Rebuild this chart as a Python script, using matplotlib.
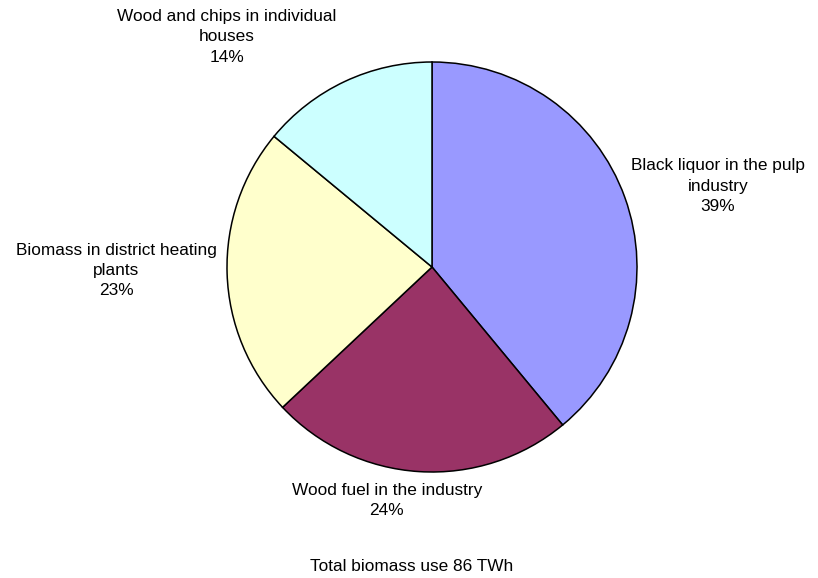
import matplotlib
matplotlib.use("Agg")
import matplotlib.pyplot as plt

# Slice data (clockwise from 12 o'clock)
categories = [
    "Black liquor in the pulp\nindustry",
    "Wood fuel in the industry",
    "Biomass in district heating\nplants",
    "Wood and chips in individual\nhouses",
]
shares = [39, 24, 23, 14]
colors = ["#9999FF", "#993366", "#FFFFCC", "#CCFFFF"]
total_note = "Total biomass use 86 TWh"

# Label centres in data units (pie radius = 1)
label_pos = [(1.395, 0.395), (-0.22, -1.141), (-1.541, -0.015), (-1.0, 1.122)]

plt.rcParams['font.family'] = ['Liberation Sans', 'DejaVu Sans']

fig = plt.figure(figsize=(8.18, 5.78), dpi=100)
ax = fig.add_axes([0, 0, 1, 1])

ax.pie(shares, colors=colors, startangle=90, counterclock=False,
       radius=1.0, center=(0, 0),
       wedgeprops=dict(edgecolor="black", linewidth=1.1))

for name, val, (x, y) in zip(categories, shares, label_pos):
    ax.text(x, y, f"{name}\n{val}%", ha="center", va="center",
            multialignment="center", fontsize=12.4, linespacing=1.42,
            color="black")

ax.text(-0.098, -1.463, total_note, ha="center", va="center", fontsize=12.4)

ax.set_xlim(-432 / 205, (818 - 432) / 205)
ax.set_ylim(-(578 - 267) / 205, 267 / 205)
ax.set_aspect("auto")
ax.axis("off")

fig.savefig("out.png", dpi=100)
